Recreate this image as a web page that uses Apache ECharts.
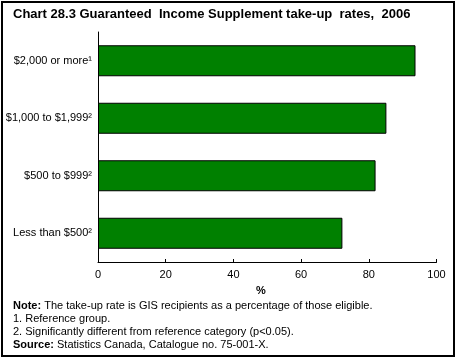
<!DOCTYPE html>
<html><head><meta charset="utf-8">
<script src="https://cdn.jsdelivr.net/npm/echarts@6/dist/echarts.min.js"></script>
<style>html,body{margin:0;padding:0;background:#fff}#c{width:459px;height:360px}</style>
</head><body><div id="c"></div>
<script>
const categories = ['$2,000 or more¹', '$1,000 to $1,999²', '$500 to $999²', 'Less than $500²'];
const takeUpRates = [93.8, 85.2, 82.0, 72.2];
const xTicks = { min: 0, max: 100, interval: 20 };
const titleText = 'Chart 28.3 Guaranteed  Income Supplement take-up  rates,  2006';
const axisTitle = '%';
const noteLines = [
  '{b|Note:} The take-up rate is GIS recipients as a percentage of those eligible.',
  '1. Reference group.',
  '2. Significantly different from reference category (p<0.05).',
  '{b|Source:} Statistics Canada, Catalogue no. 75-001-X.'
];
const FONT = 'Liberation Sans, Arial, sans-serif';
const chart = echarts.init(document.getElementById('c'), null, {renderer: 'canvas'});
chart.setOption({
  animation: false,
  backgroundColor: '#fff',
  grid: {left: 98, right: 22.5, top: 32, bottom: 98, containLabel: false},
  xAxis: {
    type: 'value', min: xTicks.min, max: xTicks.max, interval: xTicks.interval,
    axisLine: {show: true, lineStyle: {color: '#000', width: 1}},
    axisTick: {show: true, inside: true, length: 3, lineStyle: {color: '#000'}},
    splitLine: {show: false},
    axisLabel: {color: '#000', fontFamily: FONT, fontSize: 11, margin: 7}
  },
  yAxis: {
    type: 'category', data: categories, inverse: true,
    axisLine: {show: true, lineStyle: {color: '#000', width: 1}},
    axisTick: {show: false},
    axisLabel: {color: '#000', fontFamily: FONT, fontSize: 11, margin: 6}
  },
  series: [{
    type: 'bar', data: takeUpRates, barWidth: 31,
    itemStyle: {color: '#008000', borderColor: '#000', borderWidth: 1}
  }],
  graphic: [
    {type: 'rect', shape: {x: 2, y: 2, width: 452, height: 354}, style: {fill: 'none', stroke: '#000', lineWidth: 2}, z: 100},
    {type: 'text', left: 13, top: 8, style: {text: titleText, font: 'bold 13px ' + FONT, fill: '#000'}},
    {type: 'text', x: 261, y: 291, style: {text: axisTitle, font: 'bold 11px ' + FONT, fill: '#000', align: 'center', verticalAlign: 'middle'}},
    {type: 'text', x: 13, y: 299, style: {
      text: noteLines.join('\n'), font: '11px ' + FONT, fill: '#000', lineHeight: 13,
      rich: {b: {fontWeight: 'bold', fontFamily: FONT, fontSize: 11, lineHeight: 13}}
    }}
  ]
});
</script></body></html>
